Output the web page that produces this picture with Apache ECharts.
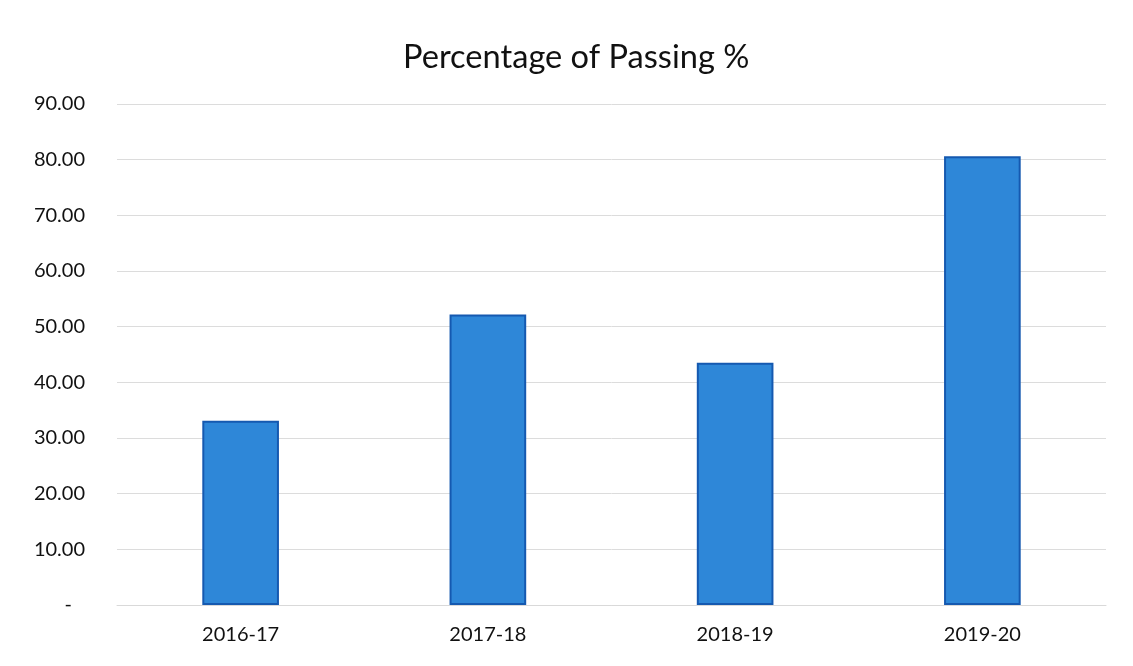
<!DOCTYPE html>
<html>
<head>
<meta charset="utf-8">
<script src="https://cdn.jsdelivr.net/npm/echarts@6/dist/echarts.min.js"></script>
<style>html,body{margin:0;padding:0;background:#fff;}#c{width:1133px;height:666px;}</style>
</head>
<body>
<div id="c"></div>
<script>
const categories = ['2016-17', '2017-18', '2018-19', '2019-20'];
const passing = [33.1, 52.2, 43.5, 80.6];
const titleText = 'Percentage of Passing %';

const chart = echarts.init(document.getElementById('c'));
chart.setOption({
  backgroundColor: '#ffffff',
  title: {
    text: titleText,
    left: 398,
    top: 36,
    textStyle: {fontFamily: 'Lato', fontSize: 32.6, fontWeight: 'normal', color: '#111'}
  },
  grid: {left: 117, right: 27, top: 104, bottom: 61},
  xAxis: {
    type: 'category',
    data: categories,
    axisLine: {show: true, lineStyle: {color: '#d9d9d9'}},
    axisTick: {show: false},
    axisLabel: {fontFamily: 'Lato', fontSize: 20, color: '#111', margin: 20}
  },
  yAxis: {
    type: 'value',
    min: 0, max: 90, interval: 10,
    axisLine: {show: false},
    axisTick: {show: false},
    splitLine: {lineStyle: {color: '#dcdcdc', width: 1}},
    axisLabel: {
      fontFamily: 'Lato', fontSize: 20, color: '#111', margin: 32,
      formatter: v => v === 0 ? '{z|-}' : v.toFixed(2),
      rich: {z: {fontFamily: 'Lato', fontSize: 20, color: '#111', padding: [0, 13, 0, 0]}}
    }
  },
  series: [{
    type: 'bar',
    data: passing,
    barWidth: '31%',
    itemStyle: {color: '#2e87d8', borderColor: '#1559b0', borderWidth: 2}
  }],
  animation: false
});
</script>
</body>
</html>
